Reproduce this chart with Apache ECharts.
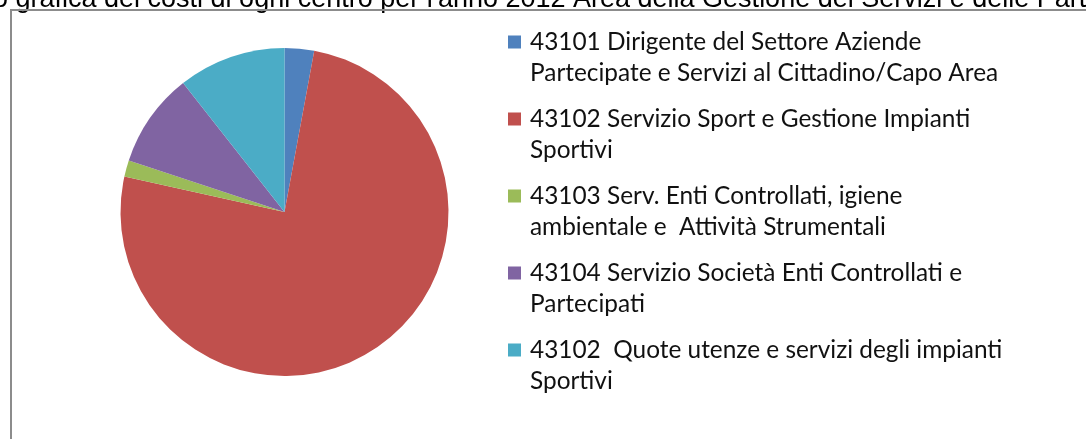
<!DOCTYPE html>
<html lang="it">
<head>
    <meta charset="utf-8">
    <title>Costi per centro 2012</title>
    <script src="https://cdn.jsdelivr.net/npm/echarts@6/dist/echarts.min.js"></script>
    <style>
        html, body {
            margin: 0;
            padding: 0;
            background: #fff;
        }
        #main {
            width: 1086px;
            height: 439px;
        }
    </style>
</head>
<body>
<div id="main"></div>

<script type="text/javascript">
// centri di costo (voci della legenda)
var categories = [
    '43101 Dirigente del Settore Aziende\nPartecipate e Servizi al Cittadino/Capo Area',
    '43102 Servizio Sport e Gestione Impianti\nSportivi',
    '43103 Serv. Enti Controllati, igiene\nambientale e  Attività Strumentali',
    '43104 Servizio Società Enti Controllati e\nPartecipati',
    '43102  Quote utenze e servizi degli impianti\nSportivi'
];
// quota percentuale dei costi
var values = [2.9, 75.5, 1.6, 9.3, 10.6];
var colors = ['#4F81BD', '#C0504D', '#9BBB59', '#8064A2', '#4BACC6'];

var titleText = "o grafica dei costi di ogni centro per l'anno 2012 Area della Gestione dei Servizi e delle Partecipate";

var pieData = [];
for (var i = 0; i < categories.length; i++) {
    pieData.push({ name: categories[i], value: values[i] });
}

// quadratino allineato alla prima riga (il punto finale allarga solo il riquadro)
var legendIcon = 'path://M0,0M0,9L13,9L13,22L0,22ZM17,62';

var myChart = echarts.init(document.getElementById('main'));

var option = {
    animation: false,
    color: colors,
    graphic: [
        {
            // titolo tagliato in alto
            type: 'text',
            left: -7,
            top: -14,
            style: {
                text: titleText,
                font: '27px "Liberation Sans", Arial, sans-serif',
                fill: '#000'
            }
        },
        {
            // cornice del grafico
            type: 'rect',
            shape: { x: 11, y: 10, width: 1200, height: 600 },
            style: { fill: 'none', stroke: '#8c8c8c', lineWidth: 2 },
            z: 10
        }
    ],
    legend: {
        orient: 'vertical',
        left: 508,
        top: 26.5,
        padding: 0,
        itemWidth: 17,
        itemHeight: 62,
        itemGap: 15,
        icon: legendIcon,
        selectedMode: false,
        textStyle: {
            fontFamily: 'Lato',
            fontSize: 24.4,
            lineHeight: 31,
            color: '#111'
        },
        data: categories
    },
    series: [{
        type: 'pie',
        center: [284.5, 212],
        radius: 164,
        startAngle: 90,
        clockwise: true,
        label: { show: false },
        labelLine: { show: false },
        itemStyle: { borderWidth: 0 },
        emphasis: { disabled: true },
        data: pieData
    }]
};

myChart.setOption(option);
</script>
</body>
</html>
